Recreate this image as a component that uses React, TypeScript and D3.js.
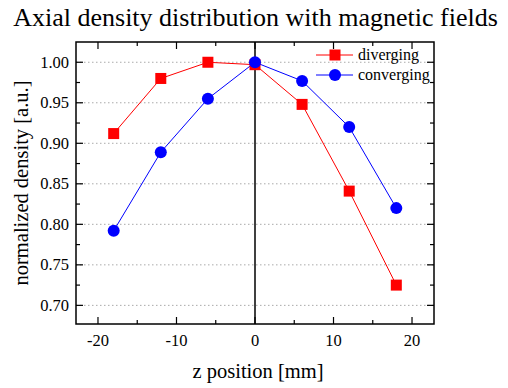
import * as d3 from "d3"

const zPositions = [-18, -12, -6, 0, 6, 12, 18]
const diverging = [0.912, 0.98, 1.0, 0.997, 0.948, 0.841, 0.725]
const converging = [0.792, 0.889, 0.955, 1.0, 0.977, 0.92, 0.82]
const xTicks = [-20, -10, 0, 10, 20]
const yTicks = [0.7, 0.75, 0.8, 0.85, 0.9, 0.95, 1.0]

const width = 508
const height = 388
const margin = { top: 42, right: 74, bottom: 64, left: 76 }
const font = "Times New Roman, Liberation Serif, serif"

export default function App() {
  const x = d3
    .scaleLinear()
    .domain([-22.8, 22.8])
    .range([margin.left, width - margin.right])
  const y = d3
    .scaleLinear()
    .domain([0.677, 1.025])
    .range([height - margin.bottom, margin.top])

  const [x0, x1] = x.range()
  const [y0, y1] = y.range()

  const minorX = d3.range(-20, 21, 5).filter((v) => v % 10 !== 0)
  const minorY = d3.range(0.725, 1.0, 0.05)

  const line = d3
    .line<[number, number]>()
    .x((d) => x(d[0]))
    .y((d) => y(d[1]))

  const divPts = zPositions.map((z, i) => [z, diverging[i]] as [number, number])
  const conPts = zPositions.map((z, i) => [z, converging[i]] as [number, number])

  return (
    <svg
      width={width}
      height={height}
      style={{ position: "absolute", left: 0, top: 0, background: "#fff", fontFamily: font }}
    >
      <text x={255.5} y={26} textAnchor="middle" fontSize={26}>
        Axial density distribution with magnetic fields
      </text>

      {/* grid */}
      {yTicks.map((t) => (
        <line
          key={"g" + t}
          x1={x0}
          x2={x1}
          y1={y(t)}
          y2={y(t)}
          stroke="#aaa"
          strokeWidth={1}
          strokeDasharray="1.5,2.5"
        />
      ))}

      {/* zero line */}
      <line x1={x(0)} x2={x(0)} y1={y1} y2={y0} stroke="#000" strokeWidth={1.5} />

      {/* series */}
      <path d={line(divPts) || ""} fill="none" stroke="#ff0000" strokeWidth={1} />
      <path d={line(conPts) || ""} fill="none" stroke="#0000ff" strokeWidth={1} />
      {divPts.map((d, i) => (
        <rect
          key={"d" + i}
          x={x(d[0]) - 5.5}
          y={y(d[1]) - 5.5}
          width={11}
          height={11}
          fill="#ff0000"
        />
      ))}
      {conPts.map((d, i) => (
        <circle key={"c" + i} cx={x(d[0])} cy={y(d[1])} r={6} fill="#0000ff" />
      ))}

      {/* frame */}
      <rect x={x0} y={y1} width={x1 - x0} height={y0 - y1} fill="none" stroke="#000" strokeWidth={1.5} />

      {/* x ticks */}
      {xTicks.map((t) => (
        <g key={"xt" + t}>
          <line x1={x(t)} x2={x(t)} y1={y0} y2={y0 - 7} stroke="#000" strokeWidth={1.2} />
          <line x1={x(t)} x2={x(t)} y1={y1} y2={y1 + 7} stroke="#000" strokeWidth={1.2} />
          <text x={x(t)} y={y0 + 22} textAnchor="middle" fontSize={16.5}>
            {t}
          </text>
        </g>
      ))}
      {minorX.map((t) => (
        <g key={"xm" + t}>
          <line x1={x(t)} x2={x(t)} y1={y0} y2={y0 - 4} stroke="#000" strokeWidth={1.2} />
          <line x1={x(t)} x2={x(t)} y1={y1} y2={y1 + 4} stroke="#000" strokeWidth={1.2} />
        </g>
      ))}

      {/* y ticks */}
      {yTicks.map((t) => (
        <g key={"yt" + t}>
          <line x1={x0} x2={x0 + 7} y1={y(t)} y2={y(t)} stroke="#000" strokeWidth={1.2} />
          <line x1={x1} x2={x1 - 7} y1={y(t)} y2={y(t)} stroke="#000" strokeWidth={1.2} />
          <text x={x0 - 7} y={y(t) + 5.5} textAnchor="end" fontSize={16.5}>
            {t.toFixed(2)}
          </text>
        </g>
      ))}
      {minorY.map((t) => (
        <g key={"ym" + t}>
          <line x1={x0} x2={x0 + 4} y1={y(t)} y2={y(t)} stroke="#000" strokeWidth={1.2} />
          <line x1={x1} x2={x1 - 4} y1={y(t)} y2={y(t)} stroke="#000" strokeWidth={1.2} />
        </g>
      ))}

      {/* axis labels */}
      <text x={258} y={378} textAnchor="middle" fontSize={20.5}>
        z position [mm]
      </text>
      <text
        transform={`translate(28,${(y0 + y1) / 2}) rotate(-90)`}
        textAnchor="middle"
        fontSize={20.5}
      >
        normalized density [a.u.]
      </text>

      {/* legend */}
      <g>
        <line x1={316} x2={353} y1={55} y2={55} stroke="#ff0000" strokeWidth={1} />
        <rect x={329.5} y={49.5} width={11} height={11} fill="#ff0000" />
        <text x={358} y={60} fontSize={16}>
          diverging
        </text>
        <line x1={316} x2={353} y1={75} y2={75} stroke="#0000ff" strokeWidth={1} />
        <circle cx={335} cy={75} r={6} fill="#0000ff" />
        <text x={358} y={80} fontSize={16}>
          converging
        </text>
      </g>
    </svg>
  )
}
